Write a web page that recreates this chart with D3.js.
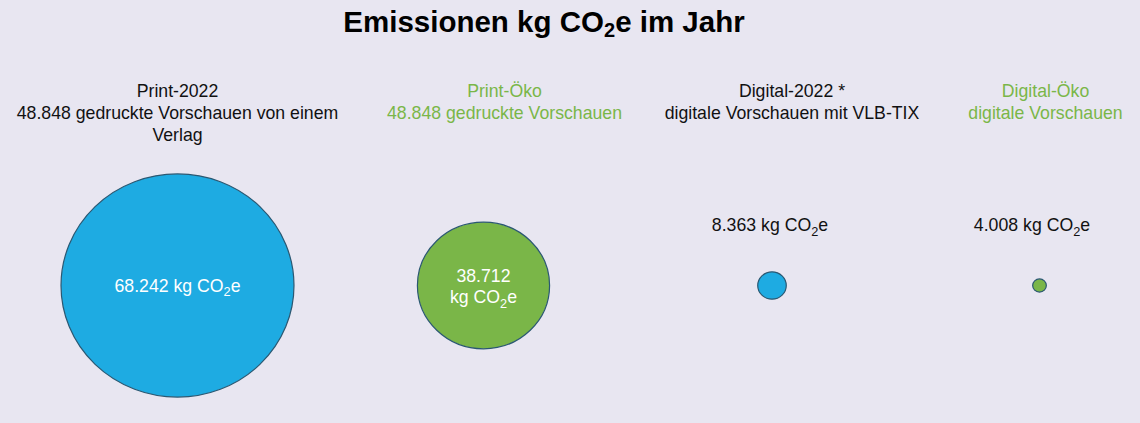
<!DOCTYPE html>
<html>
<head>
<meta charset="utf-8">
<script src="https://cdn.jsdelivr.net/npm/d3@7"></script>
<style>
  html, body { margin: 0; padding: 0; background: #e8e6f1; }
  svg { display: block; font-family: "Liberation Sans", Arial, sans-serif; }
</style>
</head>
<body>
<svg id="chart" width="1140" height="423"></svg>
<script>
// ---- data ----
const title = "Emissionen kg CO₂e im Jahr";
const categories = ["Print-2022", "Print-Öko", "Digital-2022 *", "Digital-Öko"];
const subtitles = [
  "48.848 gedruckte Vorschauen von einem Verlag",
  "48.848 gedruckte Vorschauen",
  "digitale Vorschauen mit VLB-TIX",
  "digitale Vorschauen"
];
const emissions = [68242, 38712, 8363, 4008];
const unit = "kg CO";
const isEco = [false, true, false, true];

// ---- layout ----
const W = 1140, H = 423;
const colors = { base: "#1eabe2", eco: "#7ab648", stroke: "#2b5872", text: "#111111", bg: "#e8e6f1" };
const circleX = d3.scaleOrdinal(categories, [177.5, 483.5, 772, 1039.5]);
const headerX = d3.scaleOrdinal(categories, [177.5, 504.5, 792, 1045.5]);
const labelX  = d3.scaleOrdinal(categories, [177.5, 483.5, 770, 1032]);
const cy = 285.5;
const r = d3.scaleLinear().domain([0, d3.max(emissions)]).range([0, 116.5]);
const ryFactor = 0.958;
const fmt = d3.formatLocale({ decimal: ",", thousands: ".", grouping: [3], currency: ["", "€"] }).format(",d");

const data = categories.map((c, i) => ({ cat: c, sub: subtitles[i], value: emissions[i], eco: isEco[i] }));

const svg = d3.select("#chart");
svg.append("rect").attr("width", W).attr("height", H).attr("fill", colors.bg);

// title
const tfs = 29.5;
const t = svg.append("text")
  .attr("x", 544).attr("y", 32)
  .attr("text-anchor", "middle")
  .attr("font-size", tfs).attr("font-weight", "bold").attr("fill", "#000");
t.append("tspan").text("Emissionen kg CO");
t.append("tspan").text("2").attr("font-size", tfs * 0.68).attr("dy", 5);
t.append("tspan").text("e im Jahr").attr("dy", -5);

// headers
const fs = 17.7;
function wrap(textSel, lines, x, maxW) {
  const out = [];
  lines.forEach(line => {
    const words = line.split(" ");
    let cur = [];
    const probe = textSel.append("tspan").attr("x", x);
    words.forEach(w => {
      const test = cur.concat([w]).join(" ");
      probe.text(test);
      if (probe.node().getComputedTextLength() > maxW && cur.length) {
        out.push(cur.join(" "));
        cur = [w];
      } else cur.push(w);
    });
    out.push(cur.join(" "));
    probe.remove();
  });
  return out;
}

data.forEach(d => {
  const g = svg.append("text")
    .attr("text-anchor", "middle")
    .attr("font-size", fs)
    .attr("fill", d.eco ? colors.eco : colors.text);
  const x = headerX(d.cat);
  const lines = wrap(g, [d.cat, d.sub], x, 340);
  lines.forEach((l, i) => {
    g.append("tspan").attr("x", x).attr("y", 97 + i * 22).text(l);
  });
});

// circles
svg.selectAll("ellipse.bubble")
  .data(data)
  .join("ellipse")
  .attr("class", "bubble")
  .attr("cx", d => circleX(d.cat))
  .attr("cy", cy)
  .attr("rx", d => r(d.value))
  .attr("ry", d => r(d.value) * ryFactor)
  .attr("fill", d => d.eco ? colors.eco : colors.base)
  .attr("stroke", colors.stroke)
  .attr("stroke-width", 1.2);

// value labels
function co2(sel, size) {
  sel.append("tspan").text(unit);
  sel.append("tspan").text("2").attr("font-size", size * 0.72).attr("dy", size * 0.28);
  sel.append("tspan").text("e").attr("dy", -size * 0.28);
}
const lfs = 17.7;
data.forEach(d => {
  const rad = r(d.value);
  const x = labelX(d.cat);
  const full = fmt(d.value) + " " + unit + "2e";
  const probe = svg.append("text").attr("font-size", lfs).text(full);
  const tw = probe.node().getComputedTextLength();
  probe.remove();
  if (rad < 40) {
    const txt = svg.append("text").attr("x", x).attr("y", 231).attr("text-anchor", "middle")
      .attr("font-size", lfs).attr("fill", colors.text);
    txt.append("tspan").text(fmt(d.value) + " ");
    co2(txt, lfs);
  } else if (tw > 2 * rad - 30) {
    const txt = svg.append("text").attr("text-anchor", "middle")
      .attr("font-size", lfs).attr("fill", "#fff");
    txt.append("tspan").attr("x", x).attr("y", cy - 4).text(fmt(d.value));
    txt.append("tspan").attr("x", x).attr("y", cy + 17.5).text(unit);
    txt.append("tspan").text("2").attr("font-size", lfs * 0.72).attr("dy", lfs * 0.28);
    txt.append("tspan").text("e").attr("dy", -lfs * 0.28);
  } else {
    const txt = svg.append("text").attr("x", x).attr("y", cy + 6).attr("text-anchor", "middle")
      .attr("font-size", lfs).attr("fill", "#fff");
    txt.append("tspan").text(fmt(d.value) + " ");
    co2(txt, lfs);
  }
});
</script>
</body>
</html>
